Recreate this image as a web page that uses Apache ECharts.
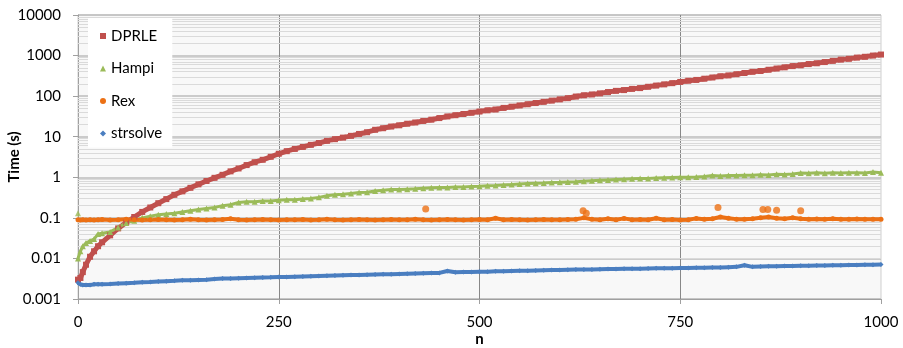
<!DOCTYPE html>
<html>
<head>
<meta charset="utf-8">
<script src="https://cdn.jsdelivr.net/npm/echarts@6/dist/echarts.min.js"></script>
<style>html,body{margin:0;padding:0;background:#fff}#c{width:903px;height:348px}</style>
</head>
<body>
<div id="c"></div>
<script>
// ---- data ----
const nValues = [0,3,6,10,15,20,25,30,40,50,60,70,80,90,100,110,120,130,140,150,160,170,180,190,200,210,220,230,240,250,260,270,280,290,300,310,320,330,340,350,360,370,380,390,400,410,420,430,440,450,460,470,480,490,500,510,520,530,540,550,560,570,580,590,600,610,620,630,640,650,660,670,680,690,700,710,720,730,740,750,760,770,780,790,800,810,820,830,840,850,860,870,880,890,900,910,920,930,940,950,960,970,980,990,1000];

const dprle = [0.003,0.0033,0.0046,0.007,0.011,0.015,0.02,0.025,0.037,0.055,0.077,0.105,0.14,0.18,0.23,0.29,0.37,0.45,0.55,0.67,0.81,0.97,1.15,1.4,1.65,2.0,2.35,2.7,3.2,3.8,4.4,5.0,5.6,6.3,7.0,7.9,8.7,9.5,10.5,11.7,12.9,14.8,16.2,17.8,19.1,20.9,22.4,24.5,26.3,28.8,31.6,33.9,36.3,38.9,41.7,44.7,46.8,51.3,55,58.9,63.1,67.6,72.4,77.6,83.2,89.1,97.7,105,110,117,126,135,141,151,158,170,182,195,209,224,240,251,269,288,309,324,347,372,398,417,447,479,513,550,575,617,646,692,741,794,832,891,933,1000,1060];

const hampi = [0.01,0.015,0.02,0.024,0.027,0.03,0.04,0.042,0.045,0.058,0.075,0.085,0.1,0.11,0.12,0.125,0.13,0.14,0.15,0.16,0.17,0.18,0.2,0.21,0.24,0.25,0.25,0.26,0.26,0.27,0.28,0.28,0.29,0.3,0.32,0.35,0.37,0.38,0.4,0.42,0.43,0.46,0.48,0.5,0.5,0.51,0.52,0.54,0.55,0.56,0.56,0.58,0.58,0.59,0.6,0.62,0.63,0.65,0.66,0.68,0.7,0.71,0.72,0.74,0.75,0.77,0.78,0.8,0.82,0.84,0.86,0.88,0.9,0.92,0.93,0.94,0.96,0.98,0.99,1.0,1.0,1.02,1.05,1.1,1.08,1.1,1.1,1.12,1.12,1.15,1.14,1.18,1.17,1.2,1.28,1.25,1.3,1.25,1.3,1.28,1.3,1.3,1.28,1.35,1.3];

const rex = [0.09,0.088,0.09,0.089,0.09,0.088,0.09,0.091,0.089,0.09,0.092,0.09,0.089,0.09,0.091,0.09,0.089,0.09,0.092,0.09,0.089,0.09,0.091,0.095,0.09,0.089,0.09,0.091,0.09,0.089,0.09,0.09,0.091,0.089,0.09,0.092,0.09,0.089,0.09,0.091,0.09,0.089,0.09,0.091,0.09,0.09,0.092,0.09,0.089,0.09,0.091,0.09,0.089,0.09,0.091,0.09,0.098,0.09,0.091,0.09,0.089,0.09,0.091,0.09,0.09,0.091,0.092,0.1,0.092,0.09,0.095,0.09,0.097,0.09,0.091,0.09,0.098,0.09,0.091,0.089,0.09,0.097,0.092,0.095,0.105,0.098,0.093,0.092,0.095,0.1,0.105,0.098,0.095,0.1,0.095,0.093,0.094,0.092,0.095,0.093,0.092,0.094,0.093,0.092,0.093];

const strsolve = [0.0025,0.0023,0.0022,0.0022,0.0022,0.0023,0.0023,0.0023,0.00234,0.0024,0.00245,0.0025,0.00257,0.00263,0.0027,0.00275,0.0028,0.0029,0.0029,0.00295,0.003,0.0031,0.0032,0.0032,0.00325,0.0033,0.00335,0.0034,0.00343,0.00347,0.0035,0.00355,0.0036,0.00365,0.0037,0.00375,0.0038,0.00385,0.0039,0.0039,0.00395,0.004,0.00405,0.0041,0.00415,0.0042,0.00425,0.0043,0.00435,0.0044,0.0049,0.00455,0.0046,0.00462,0.00468,0.0047,0.0048,0.00485,0.0049,0.00495,0.005,0.00505,0.0051,0.00515,0.0052,0.00525,0.0053,0.0053,0.00535,0.0054,0.00545,0.0055,0.00555,0.0056,0.0056,0.00565,0.0057,0.0057,0.00575,0.0058,0.0058,0.0059,0.0059,0.006,0.006,0.0061,0.0062,0.0068,0.0062,0.0063,0.0064,0.0064,0.0065,0.0065,0.0066,0.0066,0.0067,0.0067,0.0068,0.0068,0.0069,0.0069,0.007,0.007,0.0071];

// isolated points
const hampiOutliers = [[0, 0.13]];
const rexOutliers = [[433, 0.165], [629, 0.15], [633, 0.13], [797, 0.18], [853, 0.16], [859, 0.16], [870, 0.155], [900, 0.15]];

const seriesNames = ['DPRLE', 'Hampi', 'Rex', 'strsolve'];
const yTickLabels = ['0.001', '0.01', '0.1', '1', '10', '100', '1000', '10000'];
const xTickLabels = ['0', '250', '500', '750', '1000'];

// ---- chart ----
const FONT = 'Lato';
const colors = {DPRLE: '#C0504D', Hampi: '#9BBB59', Rex: '#EC7014', strsolve: '#4A7EC0'};
const pair = (vals) => nValues.map((n, i) => [n, vals[i]]);

const minorLines = [];
for (let e = -3; e < 4; e++) {
  for (let m = 2; m <= 9; m++) minorLines.push({yAxis: m * Math.pow(10, e)});
}

const chart = echarts.init(document.getElementById('c'), null, {renderer: 'canvas'});
const lineSeries = (name, vals, symbol, size, width) => ({
  name, type: 'line', data: pair(vals), symbol, symbolSize: size,
  showSymbol: true, showAllSymbol: true, animation: false, z: 3,
  itemStyle: {color: colors[name]},
  lineStyle: {color: colors[name], width},
});

chart.setOption({
  animation: false,
  textStyle: {fontFamily: FONT},
  grid: {left: 78, right: 22, top: 15, bottom: 49, outerBoundsMode: 'none', containLabel: false,
    show: true, backgroundColor: '#f8f8f8', borderColor: '#cfcfcf', borderWidth: 1},
  legend: {
    data: [
      {name: 'DPRLE', icon: 'rect'},
      {name: 'Hampi', icon: 'triangle'},
      {name: 'Rex', icon: 'circle'},
      {name: 'strsolve', icon: 'diamond'},
    ],
    z: 20,
    orient: 'vertical', left: 88, top: 18,
    backgroundColor: '#ffffff',
    padding: [10, 10, 6, 12],
    itemWidth: 6, itemHeight: 6, itemGap: 16.5, itemTextGap: 7,
    textStyle: {fontFamily: FONT, fontSize: 15, color: '#000', lineHeight: 16},
  },
  xAxis: {
    type: 'value', min: 0, max: 1000, interval: 250,
    name: 'n', nameLocation: 'middle', nameGap: 33, nameMoveOverlap: false,
    nameTextStyle: {fontFamily: FONT, fontSize: 15, fontWeight: 'bold', color: '#000'},
    axisLine: {lineStyle: {color: '#a0a0a0'}},
    axisTick: {show: true, length: 5, lineStyle: {color: '#a0a0a0'}},
    axisLabel: {fontFamily: FONT, fontSize: 15, color: '#000', margin: 16,
      formatter: (v) => xTickLabels[Math.round(v / 250)]},
    splitLine: {show: true, showMinLine: false, showMaxLine: false, lineStyle: {color: '#888888', width: 1}},
  },
  yAxis: {
    type: 'log', logBase: 10, min: 0.001, max: 10000,
    name: 'Time (s)', nameLocation: 'middle', nameGap: 56, nameRotate: 90, nameMoveOverlap: false,
    nameTextStyle: {fontFamily: FONT, fontSize: 15, fontWeight: 'bold', color: '#000'},
    axisLine: {show: true, lineStyle: {color: '#a0a0a0'}},
    axisTick: {show: true, length: 5, lineStyle: {color: '#a0a0a0'}},
    axisLabel: {fontFamily: FONT, fontSize: 15, color: '#000', margin: 17,
      formatter: (v) => yTickLabels[Math.round(Math.log10(v)) + 3]},
    splitLine: {show: true, lineStyle: {color: '#bdbdbd', width: 1.5}},
  },
  series: [
    {
      name: '_grid', type: 'line', data: [], z: 1, silent: true,
      markLine: {z: 1, silent: true, symbol: 'none', animation: false, label: {show: false},
        lineStyle: {color: '#dadada', width: 1, type: 'solid'}, data: minorLines},
    },
    lineSeries('DPRLE', dprle, 'rect', 6, 5),
    lineSeries('Hampi', hampi, 'triangle', 6, 3),
    {name: 'Hampi', type: 'scatter', data: hampiOutliers, symbol: 'triangle', symbolSize: 6, z: 3, itemStyle: {color: colors.Hampi}},
    lineSeries('Rex', rex, 'circle', 5, 4),
    {name: 'Rex', type: 'scatter', data: rexOutliers, symbol: 'circle', symbolSize: 7, z: 3, itemStyle: {color: colors.Rex}},
    lineSeries('strsolve', strsolve, 'diamond', 5, 4),
  ],
});
</script>
</body>
</html>
